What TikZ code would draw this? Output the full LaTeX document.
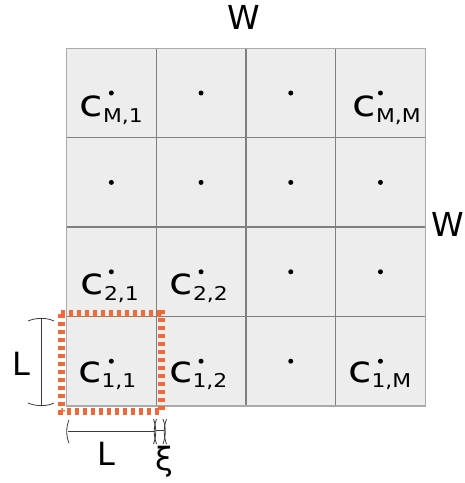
\documentclass[tikz,border=0pt]{standalone}
\usepackage{fontspec}
\setmainfont{DejaVu Sans}
\newfontfamily\widefont[FakeStretch=1.15]{DejaVu Sans}
\definecolor{cellfill}{RGB}{237,237,237}
\definecolor{gridgray}{RGB}{128,128,128}
\definecolor{outergray}{RGB}{170,170,170}
\definecolor{orangedash}{RGB}{240,105,58}
\definecolor{dimgray}{RGB}{60,60,60}
\newcommand\csubs[1]{\raisebox{-5.5pt}{\fontsize{19}{19}\selectfont #1}}
\begin{document}
\begin{tikzpicture}[x=1pt,y=-1pt,
  gridline/.style={draw=gridgray,line width=1.4pt},
  outerline/.style={draw=outergray,line width=1.3pt},
  clabel/.style={anchor=base west,inner sep=0pt,font=\widefont\fontsize{37}{37}\selectfont},
  biglabel/.style={inner sep=0pt,font=\fontsize{32}{32}\selectfont},
  dimline/.style={draw=dimgray,line width=0.8pt},
  cellmark/.style={circle,fill=black,inner sep=0pt,minimum size=5pt},
  select/.style={draw=orangedash,line width=7pt,dash pattern=on 4pt off 4pt}]
\useasboundingbox (0,0) rectangle (465,483);
% grid
\fill[cellfill] (66.5,48.3) rectangle (425.3,405.9);
\foreach \i in {1,2,3}{
  \draw[gridline] ({66.5+\i*89.7},48.3) -- ({66.5+\i*89.7},405.9);
  \draw[gridline] (66.5,{48.3+\i*89.4}) -- (425.3,{48.3+\i*89.4});
}
\draw[outerline] (66.5,48.3) rectangle (425.3,405.9);
% cell centres
\foreach \i in {0,1,2,3}{
  \foreach \j in {0,1,2,3}{
    \node[cellmark] (d\i\j) at ({66.5+(\i+0.5)*89.7},{48.3+(\j+0.5)*89.4}) {};
  }
}
% selected cell
\draw[select] (61,313.5) rectangle (161,411.5);
% labels
\node[clabel] (cM1) at (79.5,116.5) {c\csubs{M,1}};
\node[clabel] (cMM) at (352.5,116.5) {c\csubs{M,M}};
\node[clabel] (c21) at (80.5,294.5) {c\csubs{2,1}};
\node[clabel] (c22) at (169.5,294.5) {c\csubs{2,2}};
\node[clabel] (c11) at (78,382.3) {c\csubs{1,1}};
\node[clabel] (c12) at (169,382.3) {c\csubs{1,2}};
\node[clabel] (c1M) at (348,382.3) {c\csubs{1,M}};
% W labels
\node[biglabel,anchor=base] (Wtop) at (244,29) {\fontsize{33}{33}\selectfont W};
\node[biglabel,anchor=base west] (Wright) at (431,236.7) {\fontsize{33}{33}\selectfont W};
% dimension L (left)
\coordinate (lt) at (41.7,319);
\coordinate (lb) at (41.7,405);
\draw[dimline] (lt) -- (lb);
\draw[dimline] (28,321) .. controls (36,317.5) and (47,317.5) .. (54,321);
\draw[dimline] (28,403) .. controls (36,406.5) and (47,406.5) .. (54,403);
\node[biglabel,anchor=base west] (Lleft) at (12,375) {L};
% dimension L (bottom)
\coordinate (bl) at (67.5,431.7);
\coordinate (br) at (154.5,431.7);
\draw[dimline] (bl) -- (br);
\draw[dimline] (69,420) .. controls (66,427) and (66,436) .. (69,443);
\draw[dimline] (153.5,419) .. controls (156.5,427) and (156.5,436) .. (153.5,444);
\node[biglabel,anchor=base west] (Lbot) at (97,465) {L};
% dimension xi
\coordinate (xl) at (156,430.5);
\coordinate (xr) at (164,430.5);
\draw[dimline] (xl) -- (xr);
\draw[dimline] (156.5,419) .. controls (153.5,427) and (153.5,436) .. (156.5,444);
\draw[dimline] (163,419) .. controls (166,427) and (166,436) .. (163,444);
\draw[dimline] (166.5,419) .. controls (163.5,427) and (163.5,436) .. (166.5,444);
\node[biglabel] (xi) at (164,462) {ξ};
\end{tikzpicture}
\end{document}
